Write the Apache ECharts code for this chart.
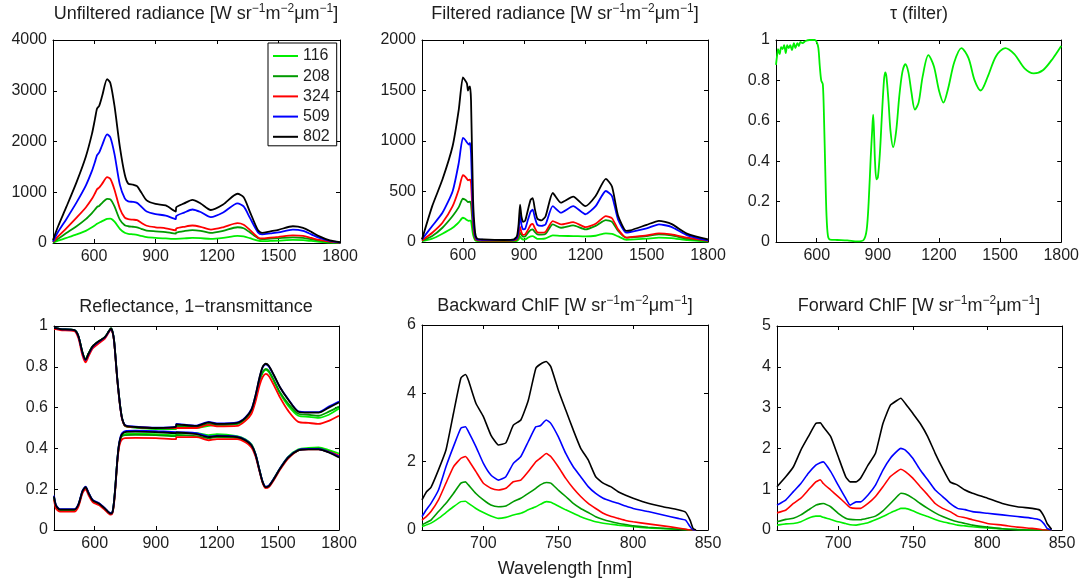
<!DOCTYPE html>
<html><head><meta charset="utf-8">
<script src="https://cdn.jsdelivr.net/npm/echarts@6/dist/echarts.min.js"></script>
<style>html,body{margin:0;padding:0;background:#fff}#c{width:1082px;height:586px}</style>
</head><body><div id="c"></div>
<script>
// ---------- data ----------
const seriesNames = ['116', '208', '324', '509', '802'];
const wlTicksTop = [600, 900, 1200, 1500, 1800];
const wlTicksChlF = [700, 750, 800, 850];

// Unfiltered radiance
const xUnf = [400, 425, 465, 515, 560, 590, 605, 615, 625, 640, 664, 680, 700, 726, 750, 767, 790, 810, 830, 857, 900, 950, 999, 1001, 1040, 1080, 1120, 1170, 1230, 1300, 1330, 1360, 1400, 1420, 1460, 1500, 1570, 1620, 1660, 1700, 1750, 1800];
const unf116 = [8, 45, 100, 170, 240, 310, 350, 380, 400, 430, 475, 480, 420, 280, 200, 180, 170, 160, 140, 115, 100, 90, 80, 82, 90, 100, 95, 80, 100, 140, 130, 95, 45, 35, 40, 45, 60, 55, 40, 25, 10, 2];
const unf208 = [15, 85, 195, 330, 470, 590, 660, 710, 730, 790, 870, 860, 720, 460, 350, 330, 320, 310, 280, 245, 230, 215, 185, 205, 235, 255, 240, 200, 240, 310, 290, 210, 95, 75, 85, 95, 110, 100, 75, 45, 18, 4];
const unf324 = [20, 130, 290, 500, 700, 870, 980, 1060, 1090, 1170, 1300, 1260, 1050, 680, 500, 470, 460, 450, 400, 340, 310, 290, 250, 285, 320, 345, 320, 265, 310, 390, 360, 260, 110, 90, 105, 120, 150, 140, 100, 60, 25, 6];
const unf509 = [30, 220, 470, 800, 1130, 1420, 1600, 1730, 1780, 1930, 2140, 2080, 1750, 1150, 880, 820, 810, 790, 720, 620, 570, 540, 470, 530, 600, 660, 610, 510, 600, 780, 720, 500, 210, 170, 190, 210, 265, 240, 170, 100, 40, 10];
const unf802 = [60, 330, 710, 1200, 1700, 2150, 2450, 2650, 2700, 2900, 3230, 3150, 2700, 1900, 1350, 1170, 1150, 1120, 1000, 840, 770, 740, 620, 700, 780, 850, 780, 650, 760, 970, 900, 620, 250, 200, 230, 260, 330, 300, 220, 130, 50, 15];

// Filtered radiance
const xFlt = [400, 450, 500, 550, 580, 600, 610, 620, 625, 630, 635, 640, 650, 660, 670, 700, 800, 850, 865, 873, 880, 887, 895, 905, 920, 932, 942, 952, 965, 985, 1005, 1040, 1080, 1140, 1200, 1250, 1300, 1330, 1360, 1400, 1420, 1500, 1560, 1620, 1700, 1800];
const flt116 = [8, 33, 82, 141, 195, 240, 232, 217, 212, 210, 212, 207, 70, 18, 10, 8, 8, 9, 12, 25, 53, 35, 25, 26, 45, 56, 59, 48, 30, 30, 35, 66, 60, 59, 55, 62, 86, 80, 55, 22, 24, 33, 43, 38, 18, 5];
const flt208 = [12, 59, 141, 257, 345, 428, 420, 405, 395, 398, 400, 372, 125, 30, 15, 12, 11, 13, 22, 50, 92, 70, 53, 55, 95, 120, 125, 100, 76, 74, 80, 174, 141, 164, 125, 160, 217, 200, 109, 43, 46, 59, 76, 66, 30, 10];
const flt324 = [15, 92, 191, 355, 520, 661, 650, 625, 610, 615, 618, 585, 190, 40, 18, 15, 14, 16, 30, 75, 150, 95, 70, 75, 125, 170, 180, 140, 95, 92, 100, 207, 174, 197, 148, 180, 257, 235, 125, 43, 48, 66, 86, 75, 43, 12];
const flt509 = [26, 158, 289, 503, 783, 1030, 1015, 985, 975, 965, 980, 880, 257, 59, 25, 22, 20, 22, 40, 120, 270, 170, 125, 130, 230, 300, 320, 245, 170, 160, 175, 355, 290, 355, 275, 355, 505, 455, 220, 92, 99, 135, 175, 150, 66, 15];
const flt802 = [26, 355, 618, 950, 1310, 1630, 1605, 1570, 1500, 1530, 1540, 1400, 420, 92, 33, 26, 20, 26, 60, 180, 370, 250, 200, 210, 330, 420, 435, 330, 230, 215, 255, 485, 390, 450, 355, 455, 625, 550, 260, 110, 115, 170, 210, 180, 80, 25];

// Filter transmission
const xTau = [400, 405, 410, 418, 425, 432, 440, 448, 455, 462, 470, 478, 488, 495, 505, 512, 520, 530, 545, 565, 590, 600, 608, 615, 622, 630, 636, 642, 648, 655, 665, 700, 750, 800, 830, 845, 855, 865, 872, 877, 881, 886, 893, 900, 910, 920, 930, 936, 942, 952, 962, 975, 990, 1005, 1020, 1035, 1050, 1065, 1082, 1100, 1120, 1148, 1175, 1200, 1222, 1245, 1275, 1310, 1345, 1375, 1405, 1440, 1480, 1525, 1570, 1620, 1665, 1710, 1760, 1800];
const tauFilter = [0.877, 0.92, 0.955, 0.93, 0.965, 0.955, 0.975, 0.935, 0.975, 0.96, 0.975, 0.95, 0.985, 0.96, 0.985, 0.97, 0.99, 0.985, 0.995, 1.0, 1.0, 0.99, 0.96, 0.87, 0.80, 0.78, 0.6, 0.35, 0.13, 0.03, 0.012, 0.01, 0.008, 0.003, 0.01, 0.06, 0.2, 0.42, 0.55, 0.63, 0.55, 0.4, 0.31, 0.32, 0.44, 0.63, 0.80, 0.84, 0.82, 0.7, 0.55, 0.47, 0.55, 0.72, 0.84, 0.88, 0.84, 0.74, 0.655, 0.69, 0.82, 0.925, 0.87, 0.75, 0.69, 0.76, 0.89, 0.96, 0.91, 0.80, 0.75, 0.82, 0.92, 0.96, 0.93, 0.86, 0.835, 0.85, 0.91, 0.97];

// Reflectance (lower) and 1 - transmittance (upper)
const xRefl = [400, 410, 430, 500, 520, 540, 555, 570, 590, 620, 650, 670, 680, 688, 695, 702, 710, 718, 726, 735, 750, 800, 900, 999, 1001, 1100, 1160, 1200, 1300, 1340, 1370, 1390, 1410, 1425, 1440, 1455, 1480, 1510, 1550, 1600, 1650, 1700, 1750, 1800];
const absT116 = [0.99, 0.99, 0.985, 0.98, 0.95, 0.87, 0.838, 0.867, 0.90, 0.925, 0.945, 0.975, 0.988, 0.97, 0.93, 0.85, 0.75, 0.67, 0.60, 0.545, 0.51, 0.502, 0.495, 0.495, 0.50, 0.50, 0.51, 0.515, 0.52, 0.545, 0.58, 0.645, 0.73, 0.77, 0.785, 0.775, 0.73, 0.67, 0.61, 0.56, 0.555, 0.55, 0.565, 0.595];
const absT208 = [0.99, 0.99, 0.985, 0.98, 0.95, 0.868, 0.835, 0.865, 0.90, 0.925, 0.945, 0.975, 0.988, 0.97, 0.93, 0.85, 0.75, 0.67, 0.60, 0.545, 0.51, 0.503, 0.498, 0.50, 0.51, 0.505, 0.52, 0.515, 0.52, 0.545, 0.585, 0.65, 0.735, 0.775, 0.79, 0.78, 0.735, 0.675, 0.62, 0.57, 0.565, 0.56, 0.58, 0.605];
const absT324 = [0.985, 0.985, 0.98, 0.975, 0.94, 0.855, 0.822, 0.852, 0.89, 0.915, 0.938, 0.97, 0.985, 0.965, 0.925, 0.845, 0.745, 0.665, 0.595, 0.54, 0.51, 0.505, 0.50, 0.50, 0.498, 0.50, 0.515, 0.508, 0.51, 0.535, 0.57, 0.63, 0.71, 0.75, 0.765, 0.755, 0.71, 0.65, 0.585, 0.53, 0.525, 0.52, 0.535, 0.56];
const absT509 = [0.99, 0.99, 0.985, 0.98, 0.95, 0.868, 0.833, 0.863, 0.898, 0.924, 0.944, 0.974, 0.987, 0.97, 0.93, 0.85, 0.75, 0.67, 0.60, 0.545, 0.513, 0.507, 0.502, 0.507, 0.52, 0.512, 0.53, 0.522, 0.527, 0.552, 0.592, 0.66, 0.748, 0.797, 0.812, 0.802, 0.758, 0.70, 0.642, 0.582, 0.578, 0.578, 0.605, 0.63];
const absT802 = [0.99, 0.99, 0.985, 0.98, 0.95, 0.87, 0.835, 0.865, 0.90, 0.925, 0.945, 0.975, 0.988, 0.97, 0.93, 0.85, 0.75, 0.67, 0.60, 0.545, 0.512, 0.505, 0.50, 0.505, 0.518, 0.51, 0.528, 0.52, 0.525, 0.55, 0.59, 0.66, 0.75, 0.80, 0.815, 0.805, 0.76, 0.70, 0.64, 0.58, 0.575, 0.575, 0.60, 0.625];
const refl116 = [0.16, 0.115, 0.098, 0.098, 0.122, 0.188, 0.208, 0.178, 0.143, 0.128, 0.103, 0.083, 0.078, 0.088, 0.138, 0.218, 0.328, 0.405, 0.445, 0.462, 0.47, 0.472, 0.47, 0.465, 0.47, 0.475, 0.465, 0.47, 0.46, 0.445, 0.42, 0.372, 0.292, 0.235, 0.21, 0.215, 0.252, 0.302, 0.358, 0.395, 0.402, 0.405, 0.392, 0.375];
const refl208 = [0.162, 0.118, 0.1, 0.1, 0.123, 0.19, 0.21, 0.18, 0.145, 0.13, 0.105, 0.085, 0.08, 0.09, 0.14, 0.22, 0.33, 0.408, 0.445, 0.46, 0.465, 0.467, 0.465, 0.46, 0.465, 0.46, 0.45, 0.455, 0.45, 0.435, 0.412, 0.368, 0.29, 0.234, 0.21, 0.215, 0.25, 0.30, 0.355, 0.39, 0.397, 0.40, 0.385, 0.36];
const refl324 = [0.15, 0.105, 0.09, 0.09, 0.115, 0.18, 0.20, 0.17, 0.137, 0.122, 0.098, 0.08, 0.075, 0.085, 0.13, 0.21, 0.32, 0.395, 0.43, 0.445, 0.45, 0.452, 0.45, 0.445, 0.455, 0.455, 0.44, 0.445, 0.445, 0.43, 0.405, 0.36, 0.285, 0.23, 0.205, 0.21, 0.245, 0.295, 0.35, 0.39, 0.395, 0.395, 0.383, 0.365];
const refl509 = [0.168, 0.122, 0.102, 0.102, 0.127, 0.193, 0.213, 0.183, 0.148, 0.132, 0.107, 0.087, 0.082, 0.092, 0.142, 0.222, 0.332, 0.412, 0.455, 0.475, 0.485, 0.487, 0.485, 0.48, 0.482, 0.475, 0.458, 0.463, 0.458, 0.442, 0.417, 0.372, 0.292, 0.237, 0.212, 0.217, 0.252, 0.302, 0.357, 0.392, 0.397, 0.397, 0.382, 0.36];
const refl802 = [0.165, 0.12, 0.10, 0.10, 0.125, 0.19, 0.21, 0.18, 0.145, 0.13, 0.105, 0.085, 0.08, 0.09, 0.14, 0.22, 0.33, 0.41, 0.45, 0.47, 0.48, 0.482, 0.48, 0.475, 0.478, 0.47, 0.455, 0.46, 0.455, 0.44, 0.415, 0.37, 0.29, 0.235, 0.21, 0.215, 0.25, 0.30, 0.355, 0.39, 0.395, 0.395, 0.38, 0.355];

// Backward ChlF
const xBwd = [659, 662, 665, 670, 675, 680, 685, 688, 690, 695, 700, 705, 710, 715, 720, 725, 730, 735, 738, 742, 745, 750, 755, 760, 765, 770, 775, 780, 785, 790, 795, 800, 810, 820, 830, 835, 838, 840, 842];
const bwd116 = [0.1, 0.15, 0.2, 0.34, 0.51, 0.68, 0.83, 0.84, 0.78, 0.63, 0.51, 0.41, 0.34, 0.37, 0.44, 0.49, 0.59, 0.68, 0.75, 0.83, 0.81, 0.70, 0.59, 0.49, 0.39, 0.31, 0.24, 0.2, 0.17, 0.14, 0.12, 0.1, 0.06, 0.04, 0.02, 0.01, 0, 0, 0];
const bwd208 = [0.15, 0.22, 0.29, 0.54, 0.78, 1.07, 1.37, 1.41, 1.32, 1.07, 0.88, 0.73, 0.68, 0.70, 0.83, 0.93, 1.07, 1.22, 1.32, 1.39, 1.37, 1.17, 0.98, 0.78, 0.63, 0.51, 0.39, 0.31, 0.25, 0.2, 0.16, 0.12, 0.08, 0.05, 0.02, 0.01, 0, 0, 0];
const bwd324 = [0.29, 0.4, 0.54, 0.88, 1.37, 1.85, 2.10, 2.15, 2.05, 1.71, 1.37, 1.22, 1.17, 1.22, 1.41, 1.46, 1.71, 2.00, 2.1, 2.24, 2.15, 1.85, 1.51, 1.22, 0.98, 0.78, 0.63, 0.49, 0.4, 0.34, 0.28, 0.24, 0.18, 0.12, 0.06, 0.02, 0, 0, 0];
const bwd509 = [0.39, 0.6, 0.78, 1.17, 1.85, 2.44, 2.98, 3.02, 2.88, 2.44, 1.95, 1.61, 1.46, 1.56, 1.95, 2.15, 2.59, 3.02, 3.05, 3.22, 3.12, 2.73, 2.24, 1.85, 1.56, 1.27, 1.07, 0.93, 0.85, 0.78, 0.7, 0.63, 0.54, 0.44, 0.34, 0.29, 0.1, 0, 0];
const bwd802 = [0.88, 1.12, 1.25, 1.76, 2.34, 3.41, 4.45, 4.55, 4.38, 3.71, 3.32, 2.78, 2.49, 2.55, 3.07, 3.22, 3.80, 4.73, 4.85, 4.93, 4.78, 4.10, 3.51, 2.93, 2.39, 2.05, 1.56, 1.37, 1.27, 1.12, 1.02, 0.93, 0.78, 0.68, 0.59, 0.52, 0.29, 0.05, 0];

// Forward ChlF
const xFwd = [659, 665, 670, 675, 680, 685, 688, 690, 695, 700, 705, 708, 712, 715, 720, 725, 730, 735, 740, 742, 745, 750, 755, 760, 765, 770, 775, 780, 785, 790, 800, 810, 820, 830, 835, 838, 840, 843];
const fwd116 = [0.12, 0.15, 0.16, 0.2, 0.29, 0.34, 0.34, 0.31, 0.26, 0.2, 0.16, 0.13, 0.12, 0.14, 0.18, 0.25, 0.33, 0.42, 0.5, 0.53, 0.53, 0.47, 0.39, 0.33, 0.26, 0.2, 0.16, 0.12, 0.1, 0.08, 0.05, 0.03, 0.01, 0, 0, 0, 0, 0];
const fwd208 = [0.2, 0.26, 0.29, 0.37, 0.49, 0.61, 0.64, 0.65, 0.57, 0.41, 0.29, 0.26, 0.25, 0.25, 0.29, 0.34, 0.47, 0.65, 0.84, 0.90, 0.88, 0.78, 0.65, 0.53, 0.42, 0.33, 0.26, 0.2, 0.16, 0.12, 0.07, 0.03, 0.01, 0, 0, 0, 0, 0];
const fwd324 = [0.42, 0.49, 0.65, 0.78, 0.98, 1.18, 1.23, 1.14, 0.98, 0.82, 0.65, 0.55, 0.53, 0.53, 0.65, 0.82, 1.06, 1.31, 1.45, 1.49, 1.43, 1.27, 1.06, 0.86, 0.65, 0.53, 0.45, 0.34, 0.3, 0.25, 0.16, 0.12, 0.07, 0.04, 0.02, 0, 0, 0];
const fwd509 = [0.61, 0.74, 0.94, 1.14, 1.39, 1.59, 1.65, 1.67, 1.43, 1.10, 0.78, 0.61, 0.69, 0.69, 0.86, 1.10, 1.47, 1.76, 1.95, 2.00, 1.96, 1.76, 1.47, 1.23, 0.98, 0.82, 0.65, 0.53, 0.5, 0.45, 0.41, 0.37, 0.33, 0.29, 0.25, 0.15, 0.04, 0];
const fwd802 = [1.06, 1.31, 1.55, 1.96, 2.29, 2.61, 2.63, 2.53, 2.29, 1.80, 1.31, 1.18, 1.18, 1.27, 1.59, 1.88, 2.61, 3.06, 3.19, 3.23, 3.10, 2.86, 2.61, 2.29, 1.88, 1.51, 1.18, 1.10, 0.98, 0.90, 0.78, 0.65, 0.57, 0.53, 0.49, 0.33, 0.16, 0.02];

const panelTitles = [
  'Unfiltered radiance [W sr{s|\u22121}m{s|\u22122}\u03bcm{s|\u22121}]',
  'Filtered radiance [W sr{s|\u22121}m{s|\u22122}\u03bcm{s|\u22121}]',
  '\u03c4 (filter)',
  'Reflectance, 1\u2212transmittance',
  'Backward ChlF [W sr{s|\u22121}m{s|\u22122}\u03bcm{s|\u22121}]',
  'Forward ChlF [W sr{s|\u22121}m{s|\u22122}\u03bcm{s|\u22121}]'
];
const xAxisTitle = 'Wavelength [nm]';

// ---------- presentation ----------
const FONT = '"Liberation Sans", Arial, Helvetica, sans-serif';
const INK = '#1e1e1e';
const colors = ['#00ee00', '#009a00', '#ff0000', '#0000ff', '#000000'];

const grids = [
  {left: 53, top: 40, width: 287, height: 203},
  {left: 422, top: 40, width: 286, height: 202},
  {left: 776, top: 40, width: 286, height: 202},
  {left: 54, top: 326, width: 285, height: 204},
  {left: 422, top: 325, width: 286, height: 205},
  {left: 777, top: 326, width: 285, height: 204}
];
const axesCfg = [
  {xmin: 400, xmax: 1800, xt: wlTicksTop, ymin: 0, ymax: 4000, yi: 1000},
  {xmin: 400, xmax: 1800, xt: wlTicksTop, ymin: 0, ymax: 2000, yi: 500},
  {xmin: 400, xmax: 1800, xt: wlTicksTop, ymin: 0, ymax: 1, yi: 0.2},
  {xmin: 400, xmax: 1800, xt: wlTicksTop, ymin: 0, ymax: 1, yi: 0.2},
  {xmin: 659, xmax: 850, xt: wlTicksChlF, ymin: 0, ymax: 6, yi: 2},
  {xmin: 659, xmax: 850, xt: wlTicksChlF, ymin: 0, ymax: 5, yi: 1}
];
const titlePos = [[196, 14], [565, 14], [919, 14], [196, 307], [565, 306], [919, 306]];

const fmt = v => String(Math.round(v * 1000) / 1000);
const xAxes = [], yAxes = [];
const lineAx = {show: true, onZero: false, lineStyle: {color: '#000', width: 1}};
axesCfg.forEach((a, i) => {
  ['bottom', 'top'].forEach(pos => {
    xAxes.push({
      gridIndex: i, type: 'value', position: pos, min: a.xmin, max: a.xmax,
      axisLine: lineAx,
      axisTick: {show: true, inside: true, length: 4, customValues: a.xt, lineStyle: {color: '#000'}},
      axisLabel: {show: pos === 'bottom', customValues: a.xt, formatter: fmt, fontSize: 16, color: INK, fontFamily: FONT, margin: 6},
      splitLine: {show: false}
    });
  });
  ['left', 'right'].forEach(pos => {
    yAxes.push({
      gridIndex: i, type: 'value', position: pos, min: a.ymin, max: a.ymax, interval: a.yi,
      axisLine: lineAx,
      axisTick: {show: true, inside: true, length: 4, lineStyle: {color: '#000'}},
      axisLabel: {show: pos === 'left', formatter: fmt, fontSize: 16, color: INK, fontFamily: FONT, margin: 6},
      splitLine: {show: false}
    });
  });
});

function line(name, k, xs, ys, gi, width, smooth) {
  return {
    type: 'line', name: name, xAxisIndex: 2 * gi, yAxisIndex: 2 * gi,
    data: xs.map((x, j) => [x, ys[j]]),
    symbol: 'none', showSymbol: false, smooth: smooth,
    lineStyle: {color: colors[k], width: width},
    itemStyle: {color: colors[k]},
    emphasis: {disabled: true}, silent: true
  };
}

const series = [];
[unf116, unf208, unf324, unf509, unf802].forEach((d, k) => series.push(line(seriesNames[k], k, xUnf, d, 0, 1.8, 0.25)));
[flt116, flt208, flt324, flt509, flt802].forEach((d, k) => series.push(line(seriesNames[k], k, xFlt, d, 1, 1.8, 0.2)));
series.push(line('\u03c4', 0, xTau, tauFilter, 2, 1.8, 0.3));
[refl116, refl208, refl324, refl509, refl802].forEach((d, k) => series.push(line(seriesNames[k], k, xRefl, d, 3, 1.8, 0.25)));
[absT116, absT208, absT324, absT509, absT802].forEach((d, k) => series.push(line(seriesNames[k], k, xRefl, d, 3, 1.8, 0.25)));
[bwd116, bwd208, bwd324, bwd509, bwd802].forEach((d, k) => series.push(line(seriesNames[k], k, xBwd, d, 4, 1.6, 0.15)));
[fwd116, fwd208, fwd324, fwd509, fwd802].forEach((d, k) => series.push(line(seriesNames[k], k, xFwd, d, 5, 1.6, 0.15)));

const graphics = panelTitles.map((t, i) => ({
  type: 'text', x: titlePos[i][0], y: titlePos[i][1], silent: true,
  style: {
    text: t, fill: INK, fontSize: 18, fontFamily: FONT, align: 'center', verticalAlign: 'middle', lineHeight: 22,
    rich: {s: {fontSize: 12, fontFamily: FONT, fill: INK, verticalAlign: 'top', lineHeight: 12}}
  }
}));
graphics.push({
  type: 'text', x: 565, y: 569, silent: true,
  style: {text: xAxisTitle, fill: INK, fontSize: 18, fontFamily: FONT, align: 'center', verticalAlign: 'middle'}
});

const chart = echarts.init(document.getElementById('c'), null, {renderer: 'canvas'});
chart.setOption({
  animation: false,
  backgroundColor: '#fff',
  grid: grids,
  xAxis: xAxes,
  yAxis: yAxes,
  legend: {
    show: true, data: seriesNames, orient: 'vertical', left: 268, top: 43,
    icon: 'rect', itemWidth: 25, itemHeight: 2, itemGap: 4.2, padding: [5, 7, 1, 5],
    borderColor: '#000', borderWidth: 1, backgroundColor: '#fff', borderRadius: 0,
    selectedMode: false, textStyle: {fontSize: 16, lineHeight: 14, color: INK, fontFamily: FONT}
  },
  graphic: graphics,
  series: series
});
</script></body></html>
